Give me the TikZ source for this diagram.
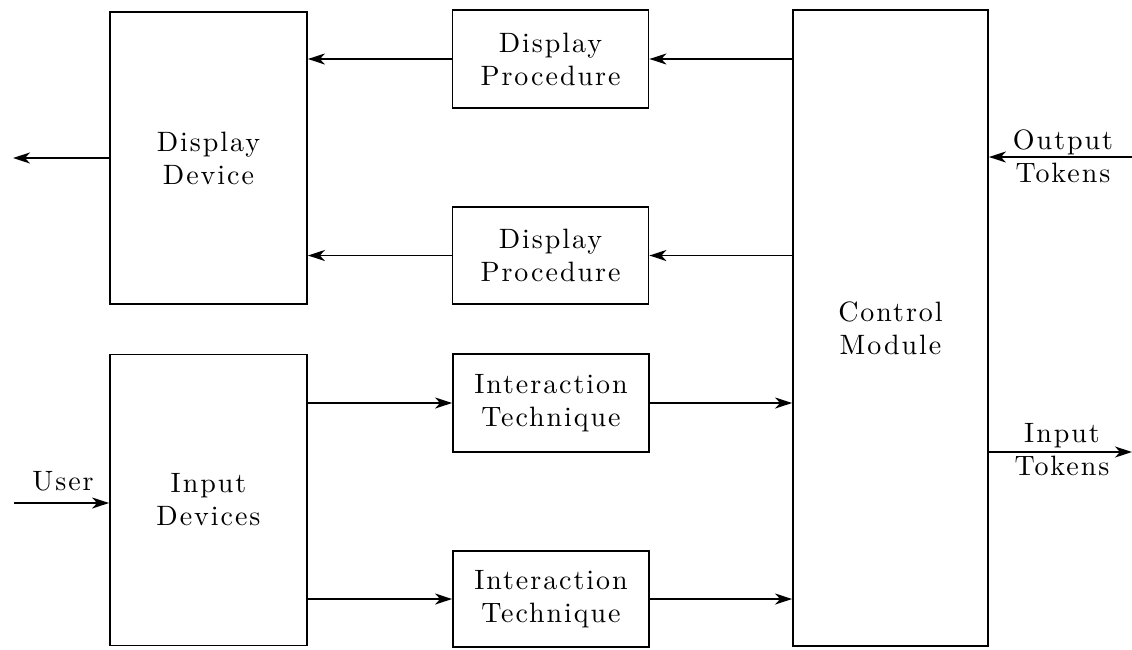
\documentclass[tikz,border=0pt]{standalone}
\usepackage{fontspec}
\usetikzlibrary{arrows.meta}
\newfontfamily\spacedrm{lmroman10-regular.otf}[LetterSpace=7]
\newcommand{\lblfont}{\spacedrm\fontsize{28}{33}\selectfont}
\begin{document}
\begin{tikzpicture}[x=1pt,y=-1pt,
  box/.style={draw,line width=1.8pt,inner sep=0pt,align=center,font=\lblfont},
  arr/.style={line width=1.8pt,-{Stealth[length=17pt,width=11pt,inset=5pt]}},
  lbl/.style={inner sep=0pt,align=center,font=\lblfont}]
\useasboundingbox (0,0) rectangle (1132,649);
\node[box,minimum width=197pt,minimum height=292pt] (dd) at (208.5,158) {Display\\Device};
\node[box,minimum width=197pt,minimum height=291pt] (id) at (208.5,500) {Input\\Devices};
\node[box,minimum width=196pt,minimum height=98pt] (dp1) at (550.5,59) {Display\\Procedure};
\node[box,minimum width=196pt,minimum height=97pt] (dp2) at (550.5,255.5) {Display\\Procedure};
\node[box,minimum width=196pt,minimum height=98pt] (it1) at (551,403) {Interaction\\Technique};
\node[box,minimum width=196pt,minimum height=96pt] (it2) at (551,599) {Interaction\\Technique};
\node[box,minimum width=195pt,minimum height=636pt] (cm) at (890.5,328) {Control\\Module};
\coordinate (ddout) at (13,158);
\coordinate (userin) at (14,503);
\coordinate (otin) at (1132,157);
\coordinate (itout) at (1132,452);
\draw[arr] (cm.west |- dp1.east) -- (dp1.east);
\draw[arr] (dp1.west) -- (dd.east |- dp1.west);
\draw[arr] (cm.west |- dp2.east) -- (dp2.east);
\draw[arr] (dp2.west) -- (dd.east |- dp2.west);
\draw[arr] (id.east |- it1.west) -- (it1.west);
\draw[arr] (it1.east) -- (cm.west |- it1.east);
\draw[arr] (id.east |- it2.west) -- (it2.west);
\draw[arr] (it2.east) -- (cm.west |- it2.east);
\draw[arr] (dd.west |- ddout) -- (ddout);
\draw[arr] (userin) -- (id.west |- userin);
\draw[arr] (otin) -- (cm.east |- otin);
\draw[arr] (cm.east |- itout) -- (itout);
\node[lbl] (user) at (63,481) {User};
\node[lbl] (ot) at (1063,156) {Output\\Tokens};
\node[lbl] (it) at (1062,450) {Input\\Tokens};
\end{tikzpicture}
\end{document}
